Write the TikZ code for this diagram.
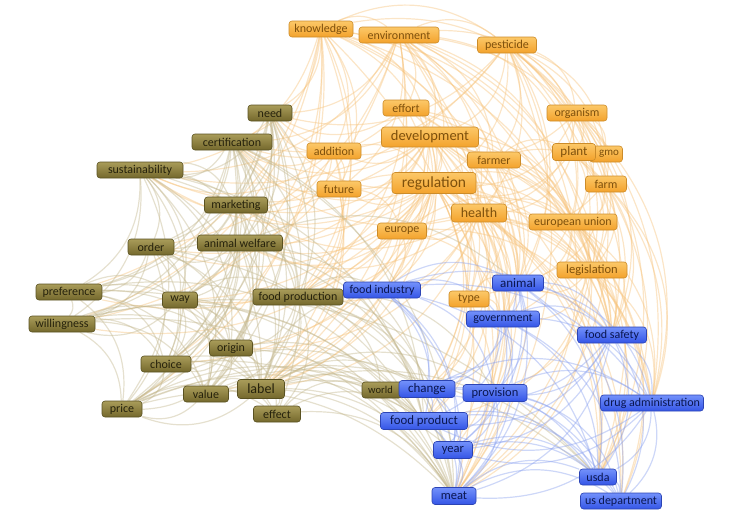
\documentclass[tikz,border=0pt]{standalone}
\usepackage{fontspec}
\setmainfont{Carlito}
\pgfdeclarelayer{background}
\pgfsetlayers{background,main}
\definecolor{oTop}{HTML}{FCC868}
\definecolor{oBot}{HTML}{F3A22C}
\definecolor{oBrd}{HTML}{CC8C2A}
\definecolor{oTxt}{HTML}{7E500C}
\definecolor{gTop}{HTML}{A99C5A}
\definecolor{gBot}{HTML}{74682C}
\definecolor{gBrd}{HTML}{5A5222}
\definecolor{gTxt}{HTML}{26220C}
\definecolor{bTop}{HTML}{7391FB}
\definecolor{bBot}{HTML}{3455E6}
\definecolor{bBrd}{HTML}{2C44B4}
\definecolor{bTxt}{HTML}{0A1650}
\definecolor{oEdge}{HTML}{F6C27A}
\definecolor{gEdge}{HTML}{C2B68C}
\definecolor{bEdge}{HTML}{889FEE}
\tikzset{
  kw/.style={rounded corners=3pt, inner xsep=2pt, inner ysep=1pt, minimum height=16pt, line width=0.6pt, font=\fontsize{12}{12}\selectfont},
  ob/.style={kw, draw=oBrd, top color=oTop, bottom color=oBot, text=oTxt},
  gb/.style={kw, draw=gBrd, top color=gTop, bottom color=gBot, text=gTxt},
  bb/.style={kw, draw=bBrd, top color=bTop, bottom color=bBot, text=bTxt},
  big/.style={font=\fontsize{#1}{#1}\selectfont},
  ed/.style={line width=1.2pt, opacity=0.42, bend left=30},
  oe/.style={ed, draw=oEdge},
  ge/.style={ed, draw=gEdge},
  be/.style={ed, draw=bEdge},
}
\begin{document}
\begin{tikzpicture}[x=1pt,y=-1pt]
\useasboundingbox (0,0) rectangle (746,531);
% orange cluster
\node[ob, minimum width=64] (kn) at (321,29) {knowledge};
\node[ob, minimum width=80] (env) at (399,35) {environment};
\node[ob, minimum width=59] (pes) at (507,45) {pesticide};
\node[ob, minimum width=46] (eff) at (406,108) {effort};
\node[ob, minimum width=60] (org) at (577,113) {organism};
\node[ob, minimum width=97, minimum height=20, big=14.5] (dev) at (430,137) {development};
\node[ob, minimum width=54] (add) at (334,151) {addition};
\node[ob, minimum width=53] (fmr) at (494,160) {farmer};
\node[ob, minimum width=33, font=\fontsize{11}{11}\selectfont] (gmo) at (606,154) {\hspace*{6pt}gmo};
\node[ob, minimum width=43, minimum height=17, big=13] (pla) at (574,152) {plant};
\node[ob, minimum width=84, minimum height=21, big=15.5] (reg) at (434,183) {regulation};
\node[ob, minimum width=44] (fut) at (339,189) {future};
\node[ob, minimum width=41] (frm) at (606,184) {farm};
\node[ob, minimum width=55, minimum height=18, big=14] (hea) at (479,213) {health};
\node[ob, minimum width=49] (eur) at (402,231) {europe};
\node[ob, minimum width=88] (eu) at (573,222) {european union};
\node[ob, minimum width=70, big=12.5] (leg) at (592,270) {legislation};
\node[ob, minimum width=40] (typ) at (469,299) {type};
% olive cluster
\node[gb, minimum width=44] (need) at (270,113) {need};
\node[gb, minimum width=80] (cert) at (232,142) {certification};
\node[gb, minimum width=86] (sus) at (140,170) {sustainability};
\node[gb, minimum width=63] (mkt) at (236,205) {marketing};
\node[gb, minimum width=85] (aw) at (240,243) {animal welfare};
\node[gb, minimum width=46] (ord) at (151,247) {order};
\node[gb, minimum width=66] (pref) at (69,292) {preference};
\node[gb, minimum width=35] (way) at (180,300) {way};
\node[gb, minimum width=90] (fp) at (298,297) {food production};
\node[gb, minimum width=66] (wil) at (62,324) {willingness};
\node[gb, minimum width=43] (ori) at (231,348) {origin};
\node[gb, minimum width=50] (cho) at (166,364) {choice};
\node[gb, minimum width=45] (val) at (206,394) {value};
\node[gb, minimum width=47, minimum height=19, big=14] (lab) at (261,389) {label};
\node[gb, minimum width=40] (pri) at (122,409) {price};
\node[gb, minimum width=47] (effc) at (277,414) {effect};
\node[gb, minimum width=40, font=\fontsize{10.5}{11}\selectfont] (wor) at (382,390) {world\hspace*{3pt}};
% blue cluster
\node[bb, minimum width=77] (fi) at (382,290) {food industry};
\node[bb, minimum width=51, big=13] (ani) at (518,283) {animal};
\node[bb, minimum width=73] (gov) at (503,319) {government};
\node[bb, minimum width=69] (fs) at (612,335) {food safety};
\node[bb, minimum width=56, minimum height=17, big=13] (chg) at (427,389) {change};
\node[bb, minimum width=64, minimum height=17, big=12.5] (pro) at (495,393) {provision};
\node[bb, minimum width=103] (da) at (652,403) {drug administration};
\node[bb, minimum width=87, minimum height=17, big=12.8] (fpr) at (424,421) {food product};
\node[bb, minimum width=39, minimum height=17, big=12.5] (yr) at (453,450) {year};
\node[bb, minimum width=37] (usda) at (598,477) {usda};
\node[bb, minimum width=44, minimum height=17, big=12.5] (meat) at (454,496) {meat};
\node[bb, minimum width=81] (usd) at (621,501) {us department};
% edges
\begin{pgfonlayer}{background}
\foreach \t in {env,dev,reg,hea,sus,cert,need,fp,lab,meat,ani,org,pes,eu,fmr,fut,add,way,cho,wil,pref,pri,fs} \draw[oe] (kn) to (\t);
\foreach \t in {pes,dev,reg,hea,fmr,org,pla,frm,eu,leg,sus,cert,need,fp,lab,meat,fpr,ani,fs,eff,fut,ord,wil,usda} \draw[oe] (env) to (\t);
\foreach \t in {org,pla,gmo,frm,dev,reg,hea,leg,eu,fmr,da,usda,meat,fs,ani,sus,cert,need,gov} \draw[oe] (pes) to (\t);
\foreach \t in {dev,reg,hea,eur,leg,cert,need,lab,ani,fs} \draw[oe] (eff) to (\t);
\foreach \t in {pla,gmo,frm,eu,leg,dev,reg,da,usda,fs,hea,meat} \draw[oe] (org) to (\t);
\foreach \t in {reg,hea,fmr,add,fut,eur,eu,leg,cert,need,sus,mkt,aw,fp,fi,lab,chg,meat,gov,typ,ani,pro,fs,da,usda,ord,way} \draw[oe] (dev) to (\t);
\foreach \t in {reg,fut,cert,need,mkt,aw,lab,sus,fp} \draw[oe] (add) to (\t);
\foreach \t in {reg,hea,pla,frm,eu,leg,ani,meat,typ,fs,gov} \draw[oe] (fmr) to (\t);
\foreach \t in {gmo,frm,eu,leg,reg,hea,ani,fs,da} \draw[oe] (pla) to (\t);
\foreach \t in {hea,fut,eur,eu,leg,typ,fi,ani,gov,fs,da,chg,pro,fpr,meat,yr,usda,usd,lab,fp,aw,cert,need,sus,ord,mkt,cho,way,pref,wil,val,ori} \draw[oe] (reg) to (\t);
\foreach \t in {hea,eur,fp,lab,cert,sus} \draw[oe] (fut) to (\t);
\foreach \t in {eu,leg,hea,ani,meat,fs,da,usda} \draw[oe] (frm) to (\t);
\foreach \t in {eur,eu,leg,typ,fi,ani,gov,fs,da,chg,pro,fpr,meat,yr,lab,fp,aw,mkt,ori,usda,usd,cert} \draw[oe] (hea) to (\t);
\foreach \t in {eu,leg,fi,gov,fp,lab,aw,fs} \draw[oe] (eur) to (\t);
\foreach \t in {leg,fs,da,ani,gov,usda,usd,meat} \draw[oe] (eu) to (\t);
\foreach \t in {fs,da,ani,gov,pro,usda,meat,usd,fpr} \draw[oe] (leg) to (\t);
\foreach \t in {ani,gov,meat,fpr,chg,fs} \draw[oe] (typ) to (\t);
\foreach \t in {cert,sus,mkt,aw,ord,way,fp,lab,ori,cho,val,pref,wil,pri} \draw[ge] (need) to (\t);
\foreach \t in {sus,mkt,aw,ord,way,fp,lab,ori,cho,val,pri,pref,wil,effc,meat,fpr} \draw[ge] (cert) to (\t);
\foreach \t in {mkt,aw,ord,pref,wil,way,cho,val,pri,lab,fp,ori,meat,fpr} \draw[ge] (sus) to (\t);
\foreach \t in {aw,ord,way,fp,lab,cho,val,ori,pri} \draw[ge] (mkt) to (\t);
\foreach \t in {ord,way,fp,lab,ori,cho,val,meat,fpr,chg,ani,pri} \draw[ge] (aw) to (\t);
\foreach \t in {pref,wil,way,cho,val,pri,lab,ori,meat} \draw[ge] (ord) to (\t);
\foreach \t in {wil,way,cho,val,pri,lab,ori,meat,fpr} \draw[ge] (pref) to (\t);
\foreach \t in {wil,cho,val,pri,lab,ori,fp,meat} \draw[ge] (way) to (\t);
\foreach \t in {lab,ori,val,effc,fi,chg,fpr,meat,wor,yr,pro} \draw[ge] (fp) to (\t);
\foreach \t in {cho,val,pri,lab,ori,meat,fpr,usda} \draw[ge] (wil) to (\t);
\foreach \t in {cho,val,lab,effc,pri,meat,fpr} \draw[ge] (ori) to (\t);
\foreach \t in {val,pri,lab,effc,meat} \draw[ge] (cho) to (\t);
\foreach \t in {pri,lab,effc,meat,fpr} \draw[ge] (val) to (\t);
\foreach \t in {effc,wor,chg,fpr,meat,yr,pri,pro,fi,usda} \draw[ge] (lab) to (\t);
\foreach \t in {effc,meat,fpr,yr,usda,chg} \draw[ge] (pri) to (\t);
\foreach \t in {wor,meat,fpr} \draw[ge] (effc) to (\t);
\foreach \t in {ani,gov,chg,pro,fpr,meat,yr,fs,da,usda} \draw[be] (fi) to (\t);
\foreach \t in {gov,fs,pro,meat,yr,usda,da,chg,usd} \draw[be] (ani) to (\t);
\foreach \t in {fs,pro,chg,fpr,meat,yr,da,usda,usd} \draw[be] (gov) to (\t);
\foreach \t in {da,usda,usd,pro,meat,yr,fpr,chg} \draw[be] (fs) to (\t);
\foreach \t in {pro,fpr,yr,meat,usda,da,usd} \draw[be] (chg) to (\t);
\foreach \t in {fpr,yr,meat,da,usda,usd} \draw[be] (pro) to (\t);
\foreach \t in {usda,usd,meat,yr,fpr} \draw[be] (da) to (\t);
\foreach \t in {yr,meat,usda,usd} \draw[be] (fpr) to (\t);
\foreach \t in {meat,usda,usd} \draw[be] (yr) to (\t);
\foreach \t in {usda,usd} \draw[be] (meat) to (\t);
\draw[be] (usda) to (usd);
\end{pgfonlayer}
\end{tikzpicture}
\end{document}
